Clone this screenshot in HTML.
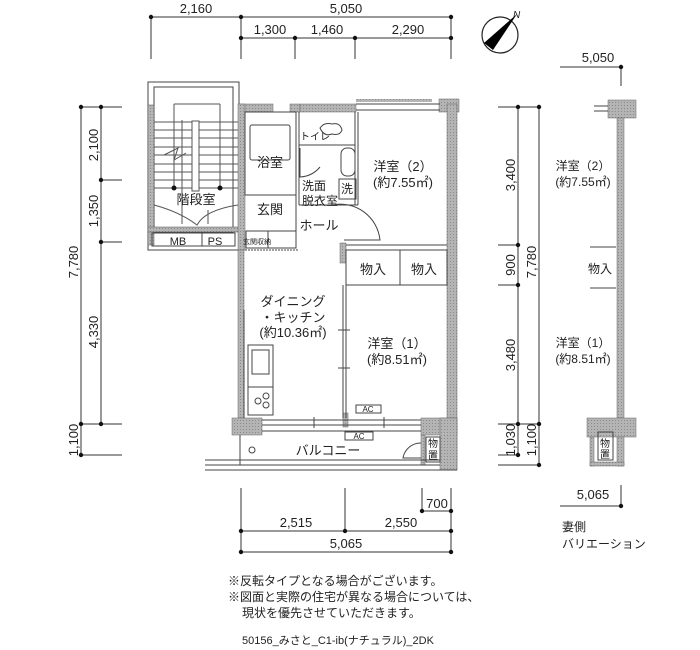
<!DOCTYPE html>
<html><head><meta charset="utf-8"><style>
html,body{margin:0;padding:0;background:#fff}
svg{display:block}
text{font-family:"Liberation Sans","Noto Sans CJK JP",sans-serif;fill:#222}
</style></head><body>
<svg width="700" height="650" viewBox="0 0 700 650" xmlns="http://www.w3.org/2000/svg">
<defs>
<pattern id="g" width="3" height="3" patternUnits="userSpaceOnUse"><rect width="3" height="3" fill="#b4b4b4"/><rect width="1" height="1" fill="#8a8a8a"/></pattern>
</defs>
<g stroke="#333" stroke-width="1" fill="none">
<!-- top dims -->
<line x1="151" y1="17" x2="451" y2="17"/>
<line x1="241" y1="38" x2="451" y2="38"/>
<line x1="151" y1="17" x2="151" y2="59"/><line x1="241" y1="17" x2="241" y2="59"/>
<line x1="295" y1="38" x2="295" y2="59"/><line x1="355" y1="38" x2="355" y2="59"/>
<line x1="451" y1="17" x2="451" y2="59"/>
<!-- left dims -->
<line x1="81" y1="107" x2="81" y2="455"/><line x1="101" y1="107" x2="101" y2="424"/>
<line x1="81" y1="107" x2="122" y2="107"/><line x1="101" y1="180" x2="122" y2="180"/>
<line x1="101" y1="242" x2="122" y2="242"/><line x1="81" y1="424" x2="122" y2="424"/>
<line x1="81" y1="455" x2="122" y2="455"/>
<!-- right dims -->
<line x1="518" y1="107" x2="518" y2="455"/><line x1="539" y1="107" x2="539" y2="465"/>
<line x1="498" y1="107" x2="539" y2="107"/><line x1="498" y1="245" x2="518" y2="245"/>
<line x1="498" y1="285" x2="518" y2="285"/><line x1="498" y1="424" x2="539" y2="424"/>
<line x1="498" y1="455" x2="518" y2="455"/><line x1="498" y1="465" x2="539" y2="465"/>
<line x1="560" y1="67" x2="621" y2="67"/><line x1="621" y1="67" x2="621" y2="86"/>
<line x1="560" y1="506" x2="621" y2="506"/><line x1="621" y1="485" x2="621" y2="506"/>
<!-- bottom dims -->
<line x1="241" y1="488" x2="241" y2="552"/><line x1="345" y1="488" x2="345" y2="531"/>
<line x1="451" y1="488" x2="451" y2="552"/><line x1="422" y1="488" x2="422" y2="511"/>
<line x1="422" y1="511" x2="451" y2="511"/>
<line x1="241" y1="531" x2="451" y2="531"/><line x1="241" y1="552" x2="451" y2="552"/>
</g>
<g fill="#111">
<circle cx="151" cy="17" r="2.2"/><circle cx="241" cy="17" r="2.2"/><circle cx="451" cy="17" r="2.2"/>
<circle cx="241" cy="38" r="2.2"/><circle cx="295" cy="38" r="2.2"/><circle cx="355" cy="38" r="2.2"/><circle cx="451" cy="38" r="2.2"/>
<circle cx="81" cy="107" r="2.2"/><circle cx="101" cy="107" r="2.2"/><circle cx="101" cy="180" r="2.2"/><circle cx="101" cy="242" r="2.2"/>
<circle cx="81" cy="424" r="2.2"/><circle cx="101" cy="424" r="2.2"/><circle cx="81" cy="455" r="2.2"/>
<circle cx="518" cy="107" r="2.2"/><circle cx="539" cy="107" r="2.2"/><circle cx="518" cy="245" r="2.2"/><circle cx="518" cy="285" r="2.2"/>
<circle cx="518" cy="424" r="2.2"/><circle cx="539" cy="424" r="2.2"/><circle cx="518" cy="455" r="2.2"/><circle cx="539" cy="465" r="2.2"/>
<circle cx="621" cy="67" r="2.2"/><circle cx="621" cy="506" r="2.2"/>
<circle cx="241" cy="531" r="2.2"/><circle cx="345" cy="531" r="2.2"/><circle cx="451" cy="531" r="2.2"/>
<circle cx="241" cy="552" r="2.2"/><circle cx="451" cy="552" r="2.2"/>
<circle cx="422" cy="511" r="2.2"/><circle cx="451" cy="511" r="2.2"/>
</g>
<g font-size="13">
<text x="196" y="13" text-anchor="middle">2,160</text>
<text x="346" y="13" text-anchor="middle">5,050</text>
<text x="270" y="34" text-anchor="middle">1,300</text>
<text x="327" y="34" text-anchor="middle">1,460</text>
<text x="408" y="34" text-anchor="middle">2,290</text>
<text transform="translate(98,145) rotate(-90)" text-anchor="middle">2,100</text>
<text transform="translate(98,211) rotate(-90)" text-anchor="middle">1,350</text>
<text transform="translate(98,332) rotate(-90)" text-anchor="middle">4,330</text>
<text transform="translate(78,262) rotate(-90)" text-anchor="middle">7,780</text>
<text transform="translate(78,440) rotate(-90)" text-anchor="middle">1,100</text>
<text transform="translate(515,175) rotate(-90)" text-anchor="middle">3,400</text>
<text transform="translate(515,265) rotate(-90)" text-anchor="middle">900</text>
<text transform="translate(515,355) rotate(-90)" text-anchor="middle">3,480</text>
<text transform="translate(536,262) rotate(-90)" text-anchor="middle">7,780</text>
<text transform="translate(515,440) rotate(-90)" text-anchor="middle">1,030</text>
<text transform="translate(536,440) rotate(-90)" text-anchor="middle">1,100</text>
<text x="598" y="62" text-anchor="middle">5,050</text>
<text x="593" y="499" text-anchor="middle">5,065</text>
<text x="296" y="527" text-anchor="middle">2,515</text>
<text x="401" y="527" text-anchor="middle">2,550</text>
<text x="346" y="548" text-anchor="middle">5,065</text>
<text x="437" y="508" text-anchor="middle">700</text>
</g>
<!-- compass -->
<circle cx="500" cy="35" r="18" fill="none" stroke="#222" stroke-width="1.2"/>
<polygon points="484,43 517,14 493,50" fill="#000"/>
<text x="513" y="18" font-size="10" font-style="italic">N</text>

<!-- stair -->
<g stroke="#444" stroke-width="1" fill="none">
<rect x="148" y="82" width="91" height="168"/>
<rect x="154" y="87" width="79" height="145"/>
</g>
<rect x="148" y="105" width="6" height="140" fill="url(#g)" stroke="#555" stroke-width=".5"/>
<rect x="148" y="227" width="91" height="5" fill="url(#g)" stroke="#555" stroke-width=".5"/>
<rect x="152" y="233" width="83" height="13" fill="none" stroke="#444"/>
<g stroke="#555" stroke-width="1">
<line x1="154" y1="122" x2="238" y2="122"/><line x1="154" y1="130" x2="238" y2="130"/><line x1="154" y1="138" x2="238" y2="138"/>
<line x1="154" y1="147" x2="238" y2="147"/><line x1="154" y1="155" x2="238" y2="155"/><line x1="154" y1="164" x2="238" y2="164"/>
<line x1="154" y1="172" x2="238" y2="172"/><line x1="154" y1="180" x2="238" y2="180"/><line x1="154" y1="188" x2="238" y2="188"/>
<line x1="174" y1="104" x2="174" y2="188"/><line x1="220" y1="104" x2="220" y2="188"/><line x1="174" y1="104" x2="220" y2="104"/>
<polyline points="164,155 178,148 174,160 186,153" fill="none"/>
<line x1="182" y1="120" x2="182" y2="224"/><line x1="208" y1="210" x2="208" y2="224"/>
<path d="M154,205 Q180,212 197,225 Q205,210 238,205" fill="none"/>
</g>
<rect x="192" y="121" width="7" height="70" fill="#fff" stroke="#555"/>
<circle cx="174" cy="188" r="2.5" fill="#111"/><circle cx="220" cy="188" r="2.5" fill="#111"/>
<text x="196" y="204" font-size="13" text-anchor="middle">階段室</text>
<text x="178" y="245" font-size="11" text-anchor="middle">MB</text>
<text x="215" y="245" font-size="11" text-anchor="middle">PS</text>
<line x1="202" y1="233" x2="202" y2="246" stroke="#444"/>

<!-- unit walls -->
<g fill="url(#g)" stroke="#666" stroke-width=".5">
<rect x="239" y="104" width="34" height="8"/>
<rect x="290" y="104" width="10" height="8"/>
<rect x="300" y="104" width="56" height="8"/>
<rect x="439" y="99" width="20" height="13"/>
<rect x="447" y="104" width="10" height="366"/>
<rect x="238" y="104" width="7" height="146"/>
<rect x="238" y="250" width="6" height="168"/>
<rect x="232" y="418" width="30" height="17"/>
<rect x="340" y="243" width="6" height="20"/>
<rect x="343" y="413" width="5" height="14"/>
<rect x="421" y="418" width="36" height="17"/>
<rect x="440" y="418" width="17" height="52"/>
<rect x="421" y="435" width="4" height="30"/>
</g>
<rect x="356" y="99" width="76" height="3" fill="url(#g)"/>
<g stroke="#444" stroke-width="1" fill="none">
<line x1="356" y1="104" x2="440" y2="104"/><line x1="356" y1="110" x2="440" y2="110"/>
<line x1="355" y1="112" x2="355" y2="205"/><line x1="358" y1="112" x2="358" y2="205"/>
<rect x="245" y="112" width="51" height="83"/>
<rect x="250" y="125" width="40" height="35" rx="2"/>
<line x1="296" y1="112" x2="296" y2="232"/><line x1="299" y1="112" x2="299" y2="205"/>
<line x1="299" y1="145" x2="355" y2="145"/>
<path d="M320,128 q4,-6 12,-4 q8,-2 10,6 q-2,6 -10,4 q-8,3 -12,-6z"/>
<rect x="341" y="148" width="14" height="28" rx="6"/>
<rect x="339" y="179" width="17" height="20"/>
<line x1="299" y1="205" x2="358" y2="205"/>
<path d="M300,148 L300,177 A28,28 0 0 0 320,167"/>
<path d="M332,205 A40,40 0 0 1 380,240 L344,240"/>
<line x1="245" y1="195" x2="296" y2="195"/>
<rect x="246" y="231" width="50" height="17"/>
<line x1="268" y1="231" x2="268" y2="248"/>
<line x1="245" y1="250" x2="298" y2="250" stroke-dasharray="2,1"/>
<line x1="346" y1="245" x2="447" y2="245"/>
<rect x="346" y="250" width="54" height="35"/>
<rect x="400" y="250" width="47" height="35"/>
<line x1="343" y1="285" x2="343" y2="418"/><line x1="346" y1="285" x2="346" y2="418"/>
<line x1="338" y1="330" x2="350" y2="330"/><line x1="338" y1="368" x2="350" y2="368"/>
<line x1="244" y1="310" x2="244" y2="418"/>
<rect x="248" y="345" width="25" height="70"/>
<rect x="252" y="350" width="17" height="24"/>
<line x1="248" y1="387" x2="273" y2="387"/>
<circle cx="258" cy="401" r="3"/><circle cx="266" cy="396" r="3"/><circle cx="266" cy="405" r="3"/>
<rect x="356" y="405" width="25" height="8"/>
<line x1="262" y1="420" x2="421" y2="420"/><line x1="262" y1="425" x2="421" y2="425"/><line x1="262" y1="431" x2="421" y2="431"/>
<line x1="314" y1="417" x2="314" y2="428"/><line x1="384" y1="417" x2="384" y2="428"/>
<rect x="345" y="432" width="28" height="8"/>
<line x1="240" y1="435" x2="240" y2="465"/>
<line x1="205" y1="460" x2="440" y2="460"/><line x1="205" y1="465" x2="440" y2="465"/><line x1="205" y1="470" x2="457" y2="470"/>
<path d="M421,443 A18,18 0 0 0 403,458 L421,458"/>
<circle cx="252" cy="450" r="3"/>
<rect x="426" y="437" width="14" height="25"/>
</g>
<g font-size="13">
<text x="270" y="167" text-anchor="middle">浴室</text>
<text x="270" y="214" text-anchor="middle">玄関</text>
<text x="319" y="230" text-anchor="middle">ホール</text>
<text x="302" y="190" font-size="12">洗面</text>
<text x="302" y="205" font-size="12">脱衣室</text>
<text x="347" y="193" font-size="12" text-anchor="middle">洗</text>
<text x="300" y="140" font-size="10">トイレ</text>
<text x="403" y="171" text-anchor="middle">洋室（2）</text>
<text x="403" y="187" text-anchor="middle">(約7.55㎡)</text>
<text x="373" y="274" text-anchor="middle">物入</text>
<text x="424" y="274" text-anchor="middle">物入</text>
<text x="293" y="306" text-anchor="middle">ダイニング</text>
<text x="293" y="322" text-anchor="middle">・キッチン</text>
<text x="293" y="337" text-anchor="middle">(約10.36㎡)</text>
<text x="397" y="348" text-anchor="middle">洋室（1）</text>
<text x="397" y="364" text-anchor="middle">(約8.51㎡)</text>
<text x="328" y="455" text-anchor="middle">バルコニー</text>
<text x="368" y="412" font-size="8" text-anchor="middle">AC</text>
<text x="359" y="439" font-size="8" text-anchor="middle">AC</text>
<text x="257" y="244" font-size="7" text-anchor="middle">玄関収納</text>
<text x="433" y="447" font-size="10" text-anchor="middle">物</text>
<text x="433" y="459" font-size="10" text-anchor="middle">置</text>
</g>

<!-- right elevation -->
<g fill="url(#g)" stroke="#666" stroke-width=".5">
<rect x="608" y="100" width="28" height="18"/>
<rect x="617" y="118" width="7" height="300"/>
<rect x="587" y="418" width="49" height="19"/>
<rect x="617" y="437" width="7" height="29"/>
<rect x="590" y="437" width="4" height="29"/>
<rect x="590" y="462" width="34" height="4"/>
</g>
<g stroke="#444" fill="none">
<line x1="594" y1="106" x2="608" y2="106"/><line x1="594" y1="111" x2="608" y2="111"/>
<line x1="590" y1="247" x2="616" y2="247"/><line x1="590" y1="288" x2="616" y2="288"/>
<rect x="598" y="432" width="15" height="28"/>
</g>
<g font-size="12">
<text x="583" y="170" text-anchor="middle">洋室（2）</text>
<text x="583" y="186" text-anchor="middle">(約7.55㎡)</text>
<text x="600" y="273" text-anchor="middle">物入</text>
<text x="583" y="347" text-anchor="middle">洋室（1）</text>
<text x="583" y="363" text-anchor="middle">(約8.51㎡)</text>
<text x="605" y="447" font-size="10" text-anchor="middle">物</text>
<text x="605" y="458" font-size="10" text-anchor="middle">置</text>
<text x="562" y="531">妻側</text>
<text x="562" y="548">バリエーション</text>
</g>
<g font-size="12">
<text x="228" y="585">※反転タイプとなる場合がございます。</text>
<text x="228" y="601">※図面と実際の住宅が異なる場合については、</text>
<text x="242" y="617">現状を優先させていただきます。</text>
<text x="242" y="644" font-size="11">50156_みさと_C1-ib(ナチュラル)_2DK</text>
</g>
</svg>
</body></html>
